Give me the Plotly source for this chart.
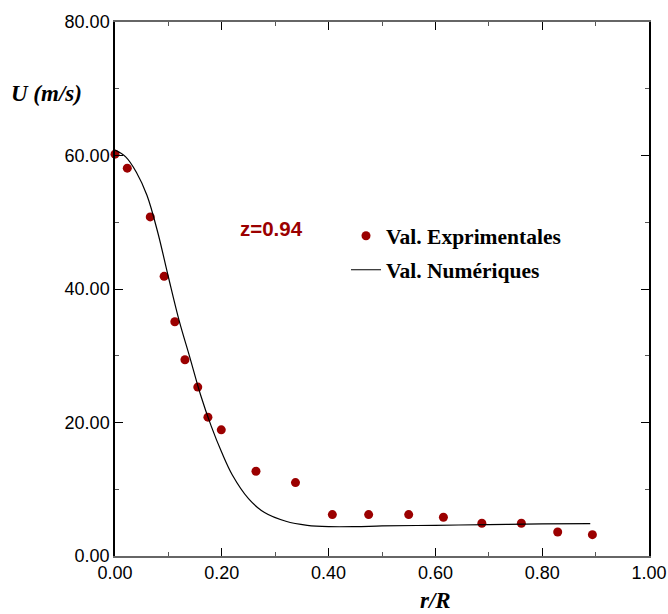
import plotly.graph_objects as go

# Experimental points
exp_r = [0.000, 0.023, 0.066, 0.092, 0.112, 0.131, 0.155, 0.174, 0.199,
         0.264, 0.338, 0.407, 0.475, 0.550, 0.615, 0.687, 0.761, 0.829, 0.894]
exp_u = [60.2, 58.1, 50.8, 41.9, 35.1, 29.4, 25.3, 20.8, 18.9,
         12.7, 11.0, 6.2, 6.2, 6.2, 5.8, 4.9, 4.9, 3.6, 3.2]

# Numerical curve
num_r = [0.00, 0.02, 0.04, 0.06, 0.08, 0.10, 0.12, 0.14, 0.16, 0.18, 0.20,
         0.22, 0.25, 0.28, 0.32, 0.36, 0.40, 0.45, 0.50, 0.60, 0.70, 0.80, 0.89]
num_u = [60.8, 59.8, 57.5, 54.0, 48.5, 41.8, 35.3, 29.8, 24.2, 19.5, 15.5,
         12.1, 8.6, 6.5, 5.2, 4.6, 4.4, 4.4, 4.5, 4.6, 4.7, 4.8, 4.85]

x_ticks = [0.0, 0.2, 0.4, 0.6, 0.8, 1.0]
y_ticks = [0, 20, 40, 60, 80]

RED = "#9b0000"

fig = go.Figure()
fig.add_trace(go.Scatter(
    x=exp_r, y=exp_u, mode="markers", name="Val. Exprimentales",
    marker=dict(color=RED, size=9), cliponaxis=False, legendgroup="a"))
fig.add_trace(go.Scatter(
    x=num_r, y=num_u, mode="lines", name="Val. Numériques",
    line=dict(color="black", width=1.2, shape="spline"), legendgroup="b"))

fig.add_annotation(x=0.294, y=0.614, xref="paper", yref="paper",
                   xanchor="center", yanchor="middle",
                   text="<b>z=0.94</b>", showarrow=False,
                   font=dict(family="Liberation Sans", size=20.5, color=RED))
fig.add_annotation(x=-0.128, y=0.866, xref="paper", yref="paper",
                   xanchor="center", yanchor="middle",
                   text="<b><i>U (m/s)</i></b>", showarrow=False,
                   font=dict(family="Liberation Serif", size=23, color="black"))
fig.add_annotation(x=0.6, y=-0.084, xref="paper", yref="paper",
                   xanchor="center", yanchor="middle",
                   text="<b><i>r/R</i></b>", showarrow=False,
                   font=dict(family="Liberation Serif", size=23, color="black"))

fig.update_layout(
    width=668, height=614, autosize=False,
    margin=dict(l=115, r=19, t=22, b=58),
    paper_bgcolor="white", plot_bgcolor="white",
    showlegend=True,
    legend=dict(x=0.4326, y=0.638, xanchor="left", yanchor="top",
                bgcolor="rgba(0,0,0,0)", traceorder="grouped",
                tracegroupgap=3,
                font=dict(family="Liberation Serif", size=21.5, color="black", weight="bold")),
    xaxis=dict(range=[0, 1], tickvals=x_ticks, tickformat=".2f",
               ticks="inside", ticklen=8, tickcolor="black", automargin=False,
               showline=True, linecolor="#666", linewidth=1.5, mirror="allticks",
               showgrid=False, zeroline=False,
               minor=dict(dtick=0.1, ticks="inside", ticklen=4, tickcolor="#555"),
               tickfont=dict(family="Liberation Sans", size=18, color="black")),
    yaxis=dict(range=[0, 80], tickvals=y_ticks, tickformat=".2f",
               ticks="inside", ticklen=8, tickcolor="black", automargin=False,
               showline=True, linecolor="black", linewidth=1.5, mirror="allticks",
               showgrid=False, zeroline=False,
               minor=dict(dtick=10, ticks="inside", ticklen=4, tickcolor="#555"),
               tickfont=dict(family="Liberation Sans", size=18, color="black")),
)
fig.write_html("out.html", config={"responsive": False, "displayModeBar": False},
               post_script="document.body.style.margin='0';document.body.style.overflow='hidden';")
